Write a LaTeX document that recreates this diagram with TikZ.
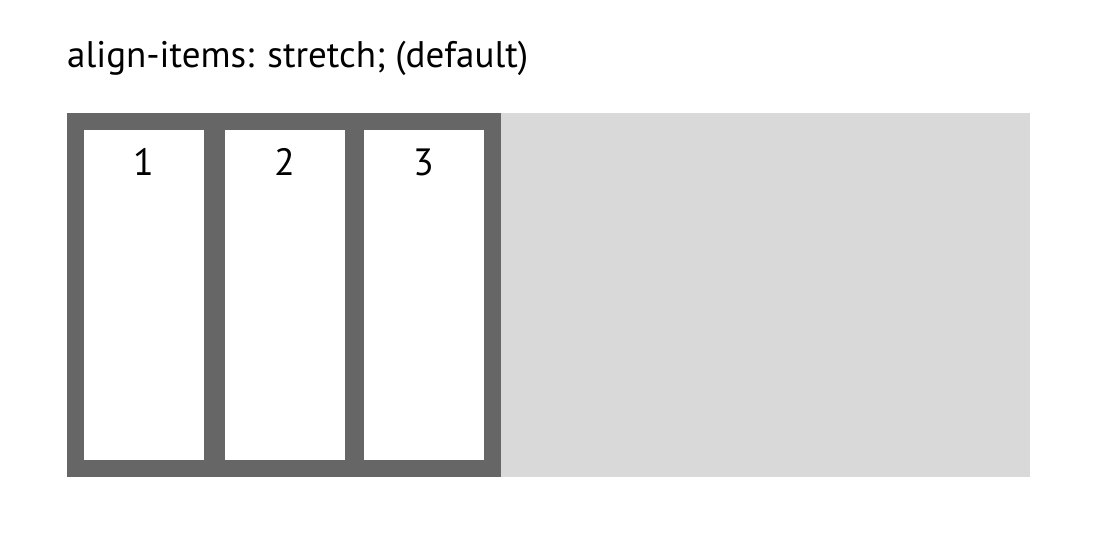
\documentclass[tikz,border=0pt]{standalone}
\usepackage{fontspec}
\setmainfont{PT Sans}
\definecolor{framegray}{HTML}{666666}
\definecolor{backgray}{HTML}{D9D9D9}
\begin{document}
\begin{tikzpicture}
[x=1pt,y=-1pt,%
  item/.style={shape=rectangle,draw=framegray,fill=white,line width=17pt,
    minimum width=137pt,minimum height=347pt,inner sep=0pt},%
  num/.style={anchor=base,inner sep=0pt,font=\fontsize{38}{45}\selectfont}]
\useasboundingbox (0,0) rectangle (1114,552);
\node[anchor=base west,inner sep=0pt,font=\fontsize{37}{44}\selectfont] (title)
  at (67,67) {align-items: stretch; (default)};
% flex container
\node[shape=rectangle,fill=backgray,inner sep=0pt,anchor=north west,
  minimum width=963pt,minimum height=364pt] (container) at (67,113) {};
% items
\node[item] (item1) at (144,295) {};
\node[item] (item2) at (285,295) {};
\node[item] (item3) at (424,295) {};
\node[num] (n1) at (143.5,175) {1};
\node[num] (n2) at (284.5,175) {2};
\node[num] (n3) at (423.5,175) {3};
\end{tikzpicture}
\end{document}
